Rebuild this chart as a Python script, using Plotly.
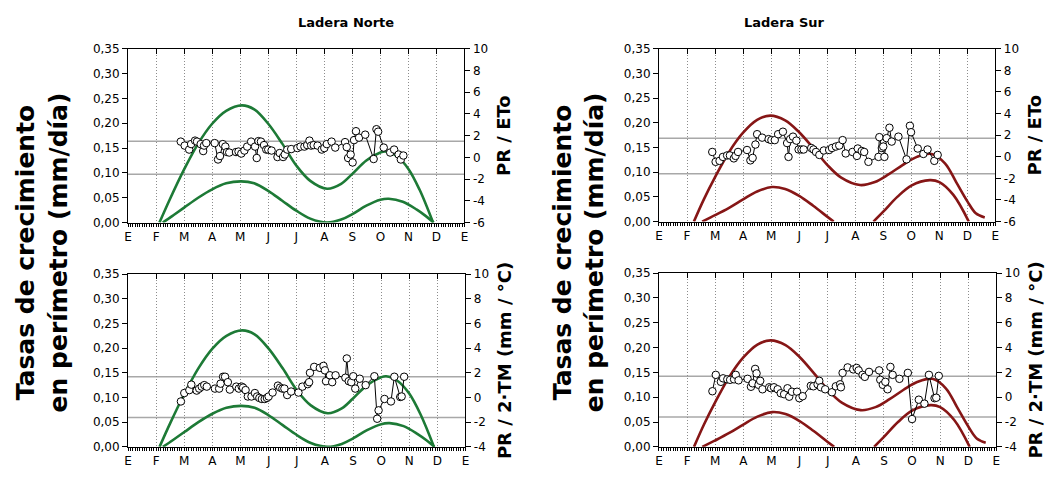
import plotly.graph_objects as go

# Month labels (Spanish initials), January to January
meses = ["E", "F", "M", "A", "M", "J", "J", "A", "S", "O", "N", "D", "E"]

# ---- Growth-rate observations (month as decimal, mm/day) ----
mes_norte_eto = [1.88, 2.02, 2.18, 2.25, 2.39, 2.46, 2.59, 2.68, 2.71, 2.79,
                 3.09, 3.21, 3.28, 3.38, 3.47, 3.53, 3.61, 3.85, 3.94, 4.04,
                 4.15, 4.25, 4.39, 4.53, 4.59, 4.65, 4.74, 4.85, 4.93, 5.00,
                 5.12, 5.33, 5.41, 5.53, 5.59, 5.68, 5.82, 6.04, 6.15, 6.29,
                 6.39, 6.47, 6.53, 6.62, 6.76, 6.91, 7.00, 7.09, 7.26, 7.39,
                 7.74, 7.80, 7.85, 7.94, 8.01, 8.06, 8.13, 8.24, 8.46, 8.76,
                 8.86, 8.92, 9.12, 9.35, 9.49, 9.65, 9.73, 9.82]
tasa_norte_eto = [0.163, 0.155, 0.147, 0.158, 0.165, 0.163, 0.158, 0.144, 0.155, 0.160,
                  0.160, 0.127, 0.134, 0.158, 0.153, 0.142, 0.141, 0.142, 0.143, 0.139,
                  0.145, 0.153, 0.163, 0.153, 0.130, 0.164, 0.163, 0.156, 0.147, 0.147,
                  0.145, 0.132, 0.140, 0.132, 0.137, 0.147, 0.148, 0.150, 0.153, 0.153,
                  0.156, 0.165, 0.155, 0.156, 0.155, 0.147, 0.150, 0.158, 0.163, 0.151,
                  0.162, 0.152, 0.130, 0.137, 0.121, 0.166, 0.184, 0.171, 0.177, 0.128,
                  0.188, 0.183, 0.151, 0.141, 0.147, 0.137, 0.127, 0.135]

mes_norte_tm = [1.88, 2.00, 2.18, 2.25, 2.44, 2.53, 2.62, 2.71, 2.80, 3.09,
                3.24, 3.29, 3.38, 3.45, 3.55, 3.62, 3.85, 3.94, 4.04, 4.09,
                4.18, 4.26, 4.39, 4.51, 4.59, 4.67, 4.76, 4.86, 4.94, 5.00,
                5.14, 5.33, 5.41, 5.49, 5.56, 5.66, 5.80, 6.06, 6.20, 6.39,
                6.44, 6.47, 6.62, 6.82, 6.95, 7.00, 7.04, 7.18, 7.26, 7.38,
                7.73, 7.78, 7.85, 7.94, 8.01, 8.08, 8.24, 8.45, 8.76, 8.86,
                8.91, 9.12, 9.35, 9.47, 9.68, 9.73, 9.82]
tasa_norte_tm = [0.092, 0.109, 0.115, 0.126, 0.114, 0.118, 0.122, 0.125, 0.122, 0.118,
                 0.118, 0.128, 0.142, 0.142, 0.131, 0.116, 0.122, 0.118, 0.122, 0.120,
                 0.115, 0.102, 0.102, 0.109, 0.102, 0.099, 0.097, 0.097, 0.099, 0.102,
                 0.110, 0.124, 0.120, 0.118, 0.118, 0.105, 0.112, 0.110, 0.122, 0.127,
                 0.131, 0.150, 0.162, 0.160, 0.164, 0.155, 0.133, 0.145, 0.131, 0.145,
                 0.140, 0.179, 0.133, 0.131, 0.143, 0.118, 0.138, 0.125, 0.143, 0.057,
                 0.074, 0.097, 0.092, 0.142, 0.101, 0.102, 0.142]

mes_sur_eto = [1.90, 2.02, 2.16, 2.28, 2.43, 2.53, 2.67, 2.73, 2.82, 3.14,
               3.26, 3.34, 3.44, 3.50, 3.68, 3.91, 4.01, 4.13, 4.25, 4.42,
               4.57, 4.62, 4.68, 4.78, 4.90, 4.98, 5.08, 5.16, 5.43, 5.51,
               5.60, 5.72, 5.88, 6.07, 6.17, 6.31, 6.43, 6.55, 6.66, 6.90,
               7.06, 7.09, 7.23, 7.32, 7.47, 7.83, 7.86, 7.95, 8.00, 8.04,
               8.12, 8.22, 8.30, 8.54, 8.83, 8.95, 8.99, 9.23, 9.43, 9.58,
               9.82, 9.94]
tasa_sur_eto = [0.141, 0.121, 0.123, 0.131, 0.134, 0.134, 0.128, 0.133, 0.141, 0.145,
                0.124, 0.129, 0.156, 0.177, 0.170, 0.167, 0.165, 0.165, 0.177, 0.182,
                0.159, 0.131, 0.167, 0.172, 0.164, 0.146, 0.146, 0.146, 0.149, 0.146,
                0.141, 0.135, 0.144, 0.145, 0.149, 0.152, 0.154, 0.165, 0.138, 0.141,
                0.133, 0.148, 0.143, 0.141, 0.121, 0.131, 0.171, 0.149, 0.152, 0.131,
                0.169, 0.190, 0.162, 0.172, 0.126, 0.194, 0.181, 0.148, 0.137, 0.146,
                0.123, 0.135]

mes_sur_tm = [1.90, 2.02, 2.20, 2.28, 2.43, 2.53, 2.67, 2.73, 2.83, 3.15,
              3.27, 3.33, 3.42, 3.47, 3.54, 3.60, 3.68, 3.92, 3.99, 4.09,
              4.22, 4.33, 4.45, 4.57, 4.63, 4.73, 4.91, 4.99, 5.11, 5.40,
              5.49, 5.64, 5.70, 5.76, 5.91, 6.15, 6.29, 6.44, 6.47, 6.53,
              6.71, 6.91, 7.03, 7.10, 7.24, 7.32, 7.47, 7.83, 7.87, 7.96,
              8.05, 8.13, 8.23, 8.31, 8.55, 8.85, 9.00, 9.24, 9.44, 9.60,
              9.80, 9.86, 9.95]
tasa_sur_tm = [0.112, 0.145, 0.131, 0.138, 0.136, 0.135, 0.136, 0.145, 0.134, 0.137,
               0.121, 0.128, 0.157, 0.148, 0.125, 0.133, 0.116, 0.120, 0.118, 0.120,
               0.116, 0.108, 0.106, 0.118, 0.101, 0.111, 0.111, 0.098, 0.102, 0.123,
               0.122, 0.126, 0.133, 0.120, 0.116, 0.110, 0.122, 0.126, 0.120, 0.149,
               0.160, 0.156, 0.159, 0.154, 0.145, 0.141, 0.151, 0.154, 0.135, 0.125,
               0.131, 0.116, 0.161, 0.145, 0.137, 0.149, 0.056, 0.095, 0.087, 0.145,
               0.098, 0.099, 0.143]

# ---- Modelled growth envelopes (month, mm/day) ----
mes_norte_sup = [1.12, 1.5, 2.0, 2.5, 3.0, 3.5, 4.06, 4.5, 5.0, 5.5, 6.0, 6.5,
                 7.1, 7.6, 8.0, 8.5, 9.0, 9.18, 9.6, 10.0, 10.4, 10.88]
curva_norte_sup = [0.0, 0.048, 0.107, 0.159, 0.199, 0.225, 0.236, 0.228, 0.199, 0.159, 0.115, 0.084,
                   0.068, 0.078, 0.098, 0.125, 0.141, 0.143, 0.133, 0.108, 0.066, 0.0]
mes_norte_inf = [1.24, 1.6, 2.0, 2.5, 3.0, 3.5, 4.03, 4.5, 5.0, 5.5, 6.0, 6.5,
                 7.1, 7.6, 8.0, 8.5, 9.0, 9.3, 9.8, 10.3, 10.6, 10.9]
curva_norte_inf = [0.0, 0.014, 0.030, 0.050, 0.067, 0.079, 0.083, 0.079, 0.064, 0.044, 0.024, 0.008,
                   0.0, 0.006, 0.017, 0.034, 0.046, 0.048, 0.042, 0.026, 0.014, 0.0]

mes_sur_sup = [1.245, 1.6, 2.0, 2.5, 3.0, 3.5, 3.97, 4.5, 5.0, 5.5, 6.0, 6.5,
               7.17, 7.7, 8.2, 8.7, 9.2, 9.72, 10.2, 10.6, 11.0, 11.3, 11.62]
curva_sur_sup = [0.0, 0.045, 0.090, 0.141, 0.180, 0.206, 0.2145, 0.205, 0.181, 0.149, 0.115, 0.089,
                 0.074, 0.080, 0.096, 0.115, 0.131, 0.137, 0.118, 0.080, 0.041, 0.017, 0.0085]
mes_sur_inf1 = [1.54, 2.0, 2.5, 3.0, 3.5, 4.03, 4.5, 5.0, 5.5, 6.0, 6.23]
curva_sur_inf1 = [0.0, 0.013, 0.028, 0.045, 0.061, 0.070, 0.066, 0.052, 0.032, 0.010, 0.0]
mes_sur_inf2 = [7.65, 8.0, 8.5, 9.0, 9.66, 10.0, 10.5, 11.05]
curva_sur_inf2 = [0.0, 0.020, 0.050, 0.073, 0.084, 0.080, 0.054, 0.0]

# ---- Reference thresholds (left-axis units) ----
umbral_norte_eto = [0.1636, 0.0972]
umbral_norte_tm = [0.142, 0.0596]
umbral_sur_eto = [0.169, 0.097]
umbral_sur_tm = [0.142, 0.060]

# ---- Right-axis ticks ----
eto_ticks = [-6, -4, -2, 0, 2, 4, 6, 8, 10]
tm_ticks = [-4, -2, 0, 2, 4, 6, 8, 10]

VERDE = "#1d7a36"
GRANATE = "#861616"
FONT = "DejaVu Sans"

W, H = 1054, 483


def px_x(a, b):
    return [a / W, b / W]


def px_y(top, bottom):
    return [(H - bottom) / H, (H - top) / H]


paneles = [
    dict(xd=px_x(125, 464), yd=px_y(43, 222), mes=mes_norte_eto, tasa=tasa_norte_eto,
         curvas=[(mes_norte_sup, curva_norte_sup), (mes_norte_inf, curva_norte_inf)],
         color=VERDE, umbral=umbral_norte_eto, rticks=eto_ticks, rtitle="PR / ETo"),
    dict(xd=px_x(660, 999), yd=px_y(43, 221), mes=mes_sur_eto, tasa=tasa_sur_eto,
         curvas=[(mes_sur_sup, curva_sur_sup), (mes_sur_inf1, curva_sur_inf1),
                 (mes_sur_inf2, curva_sur_inf2)],
         color=GRANATE, umbral=umbral_sur_eto, rticks=eto_ticks, rtitle="PR / ETo"),
    dict(xd=px_x(125, 465), yd=px_y(275, 453), mes=mes_norte_tm, tasa=tasa_norte_tm,
         curvas=[(mes_norte_sup, curva_norte_sup), (mes_norte_inf, curva_norte_inf)],
         color=VERDE, umbral=umbral_norte_tm, rticks=tm_ticks, rtitle="PR / 2·TM (mm / °C)"),
    dict(xd=px_x(660, 1000), yd=px_y(274, 453), mes=mes_sur_tm, tasa=tasa_sur_tm,
         curvas=[(mes_sur_sup, curva_sur_sup), (mes_sur_inf1, curva_sur_inf1),
                 (mes_sur_inf2, curva_sur_inf2)],
         color=GRANATE, umbral=umbral_sur_tm, rticks=tm_ticks, rtitle="PR / 2·TM (mm / °C)"),
]


def name(prefix, n):
    return prefix + ("" if n == 1 else str(n))


fig = go.Figure()
layout = {}
shapes = []
tick_font = dict(family=FONT, size=12, color="black")

for i, p in enumerate(paneles, start=1):
    xb, yl = i, i            # bottom x axis / left y axis
    xt, yr = i + 4, i + 4    # top x axis / right y axis

    # envelope curves
    for mx, cv in p["curvas"]:
        fig.add_trace(go.Scatter(
            x=mx, y=cv, mode="lines", line=dict(color=p["color"], width=2.6, shape="spline", smoothing=1),
            xaxis=name("x", xb), yaxis=name("y", yl), showlegend=False, hoverinfo="skip"))

    # observed rates
    fig.add_trace(go.Scatter(
        x=p["mes"], y=p["tasa"], mode="lines+markers",
        line=dict(color="black", width=1),
        marker=dict(symbol="circle", size=7.5, color="white", line=dict(color="black", width=1)),
        xaxis=name("x", xb), yaxis=name("y", yl), showlegend=False))

    # placeholders so the secondary axes are drawn
    fig.add_trace(go.Scatter(x=[None], y=[None], xaxis=name("x", xb), yaxis=name("y", yr),
                             showlegend=False, hoverinfo="skip"))
    fig.add_trace(go.Scatter(x=[None], y=[None], xaxis=name("x", xt), yaxis=name("y", yl),
                             showlegend=False, hoverinfo="skip"))

    for v in p["umbral"]:
        shapes.append(dict(type="line", xref=name("x", xb) + " domain", yref=name("y", yl),
                           x0=0, x1=1, y0=v, y1=v, layer="below",
                           line=dict(color="#a8a8a8", width=1.5)))

    layout[name("xaxis", xb)] = dict(
        domain=p["xd"], anchor=name("y", yl), range=[0, 12],
        tickmode="array", tickvals=list(range(13)), ticktext=meses,
        ticks="outside", ticklen=3, tickcolor="black", tickfont=tick_font,
        showline=True, linecolor="black", linewidth=1,
        showgrid=True, gridcolor="#8c8c8c", griddash="1px,2px", gridwidth=1,
        minor=dict(dtick=1 / 12, tick0=0, ticks="outside", ticklen=3, tickcolor="black",
                   showgrid=False),
        zeroline=False, fixedrange=True)
    layout[name("xaxis", xt)] = dict(
        overlaying=name("x", xb), anchor=name("y", yl), side="top", range=[0, 12],
        tickmode="array", tickvals=list(range(13)), ticks="inside", ticklen=5,
        tickcolor="black", showticklabels=False, showline=True, linecolor="black",
        linewidth=1, showgrid=False, zeroline=False)
    layout[name("yaxis", yl)] = dict(
        domain=p["yd"], anchor=name("x", xb), range=[0, 0.35], dtick=0.05, tick0=0,
        tickformat=".2f", ticks="outside", ticklen=5, tickcolor="black", tickfont=tick_font,
        showline=True, linecolor="black", linewidth=1, showgrid=False, zeroline=False)
    rt = p["rticks"]
    layout[name("yaxis", yr)] = dict(
        overlaying=name("y", yl), anchor=name("x", xb), side="right",
        range=[rt[0], rt[-1]], tickmode="array", tickvals=rt, ticktext=[str(t) for t in rt],
        ticks="outside", ticklen=5, tickcolor="black", tickfont=tick_font,
        showline=True, linecolor="black", linewidth=1, showgrid=False, zeroline=False,
        title=dict(text=p["rtitle"], font=dict(family=FONT, size=18, color="black",
                                               weight="bold"), standoff=10))

annot_font = dict(family=FONT, size=25, color="black", weight="bold")
title_font = dict(family=FONT, size=13, color="black", weight="bold")
annotations = [
    dict(text="Ladera Norte", x=294.5 / W, y=(H - 16) / H, xref="paper", yref="paper",
         yanchor="middle", showarrow=False, font=title_font),
    dict(text="Ladera Sur", x=829.5 / W, y=(H - 16) / H, xref="paper", yref="paper",
         yanchor="middle", showarrow=False, font=title_font),
    dict(text="Tasas de crecimiento<br>en perímetro (mm/día)", x=38 / W, y=(H - 253) / H,
         xref="paper", yref="paper", xanchor="center", yanchor="middle",
         showarrow=False, textangle=-90, font=annot_font),
    dict(text="Tasas de crecimiento<br>en perímetro (mm/día)", x=579 / W, y=(H - 253) / H,
         xref="paper", yref="paper", xanchor="center", yanchor="middle",
         showarrow=False, textangle=-90, font=annot_font),
]

fig.update_layout(
    width=W, height=H, margin=dict(l=0, r=0, t=0, b=0),
    paper_bgcolor="white", plot_bgcolor="white",
    separators=", ", font=dict(family=FONT, color="black"),
    shapes=shapes, annotations=annotations, showlegend=False, **layout)

fig.write_html("out.html")
